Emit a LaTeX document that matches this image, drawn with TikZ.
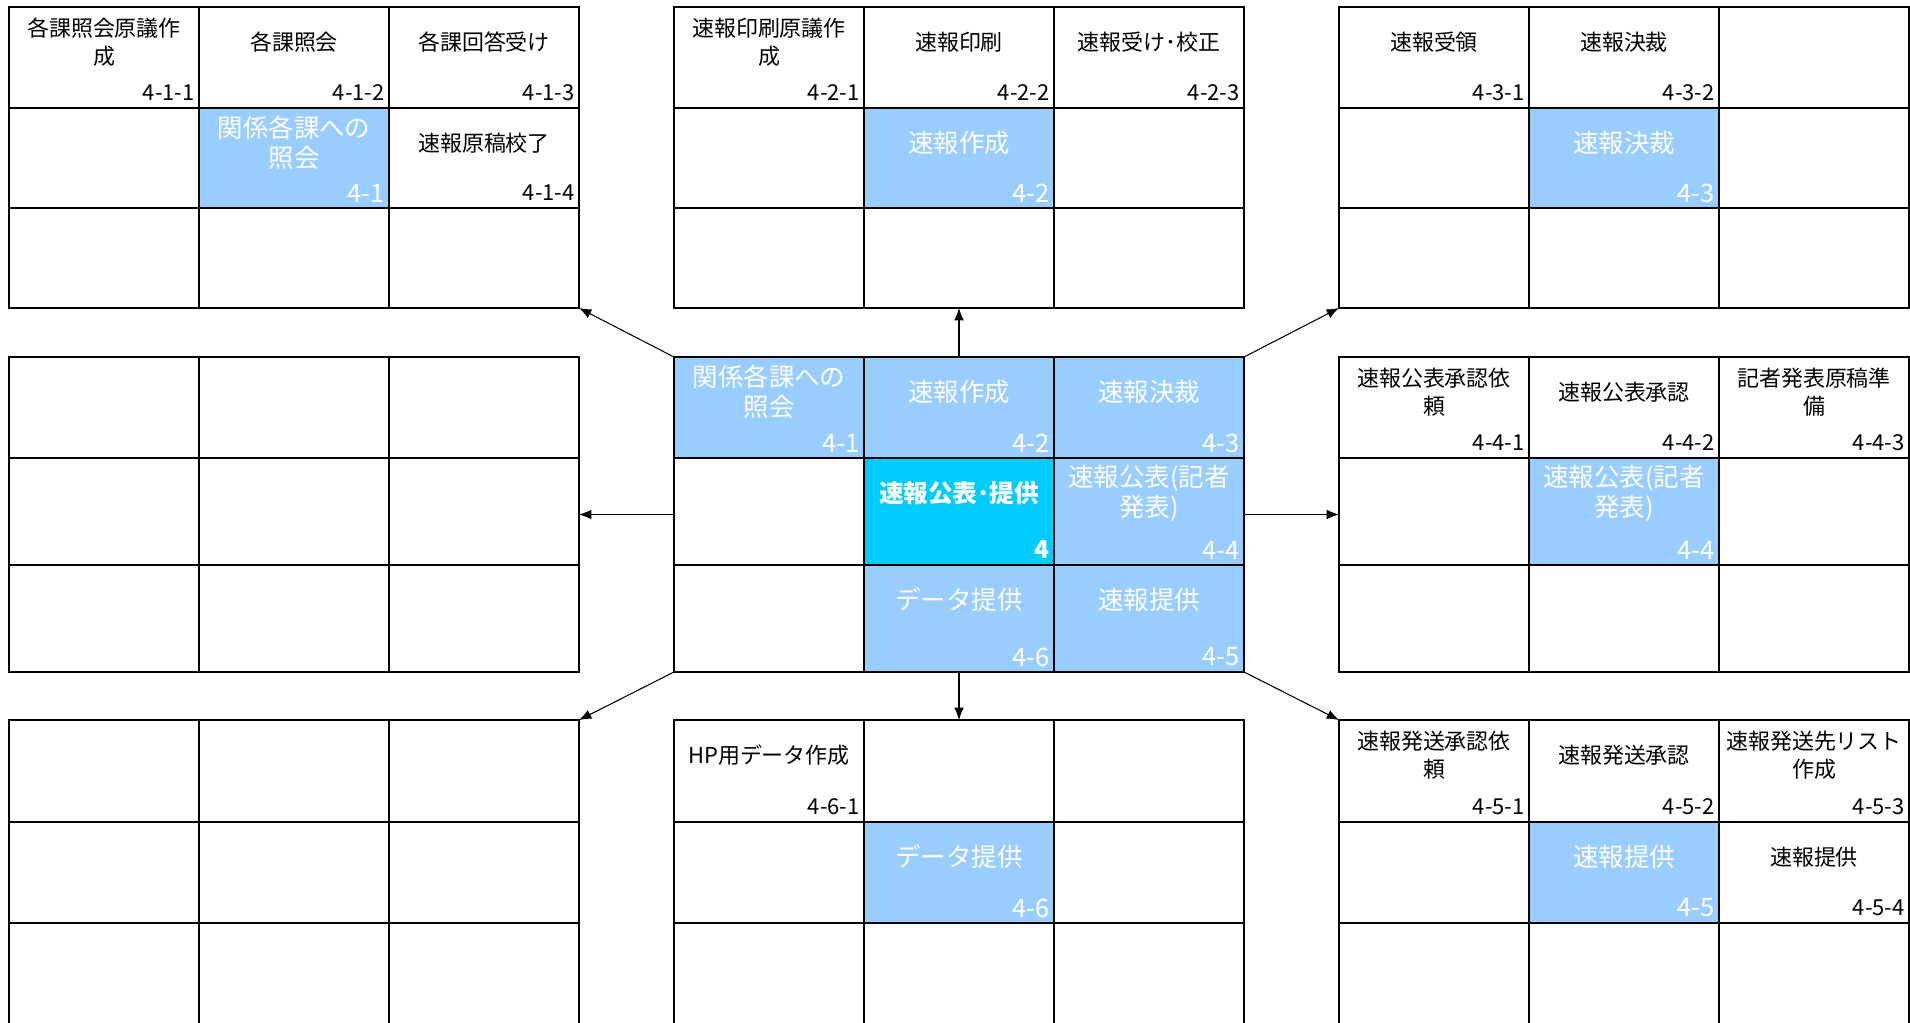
\documentclass[tikz,border=0pt]{standalone}
\usepackage{fontspec}
\setmainfont{Noto Sans CJK JP}
\usepackage{xcolor}
\usepackage{tikz}
\usetikzlibrary{positioning, fit, arrows.meta}
\definecolor{paleblue}{HTML}{99CCFF}
\definecolor{skyblue}{HTML}{00CCFF}
\tikzset{
    cellline/.style = {line width = 1.1pt, line cap = rect},
    task/.style = {
        align = center, inner sep = 0pt,
        font = \fontsize{12.5}{16}\selectfont
    },
    num/.style = {
        anchor = east, inner sep = 0pt,
        font = \fontsize{12.5}{16}\selectfont
    },
    lit/.style = {text = white, font = \fontsize{14.5}{17}\selectfont},
    main/.style = {text = white, font = \fontsize{14}{17}\selectfont\bfseries},
    area/.style = {inner sep = 0pt, outer sep = 0pt},
    line/.style = {-{Latex[length=7pt, width=5.5pt]}, line width = 0.6pt}
}
% name, left x, row top, row bottom, text, number
\newcommand{\taskcell}[7][]{%
    \node[task, #1] (#2) at (#3+95, #4+35) {#6};
    \node[num, #1] (#2n) at (#3+186, #5-15) {#7};
}

\begin{document}
\begin{tikzpicture}[x = 0.02cm, y = -0.02cm]

    \useasboundingbox (0,0) rectangle (1910,1022);

    % Highlighted cells
    \fill[paleblue] (199,108) rectangle (389,208);
    \fill[paleblue] (864,108) rectangle (1054,208);
    \fill[paleblue] (1529,108) rectangle (1719,208);
    \fill[paleblue] (674,357) rectangle (1244,458);
    \fill[paleblue] (1054,458) rectangle (1244,565);
    \fill[paleblue] (864,565) rectangle (1244,672);
    \fill[skyblue] (864,458) rectangle (1054,565);
    \fill[paleblue] (1529,458) rectangle (1719,565);
    \fill[paleblue] (864,822) rectangle (1054,923);
    \fill[paleblue] (1529,822) rectangle (1719,923);

    % Grids
    \foreach \x in {9, 674, 1339} {
        \foreach \c in {0, 190, 380, 570} {
            \draw[cellline] (\x+\c, 7) -- (\x+\c, 308);
            \draw[cellline] (\x+\c, 357) -- (\x+\c, 672);
            \draw[cellline] (\x+\c, 720) -- (\x+\c, 1024);
        }
        \foreach \y in {7, 108, 208, 308, 357, 458, 565, 672, 720, 822, 923, 1024}
            \draw[cellline] (\x, \y) -- (\x+570, \y);
    }

    % Blocks
    \node[area, fit = {(9,7) (579,308)}] (TL) {};
    \node[area, fit = {(674,7) (1244,308)}] (T) {};
    \node[area, fit = {(1339,7) (1909,308)}] (TR) {};
    \node[area, fit = {(9,357) (579,672)}] (L) {};
    \node[area, fit = {(674,357) (1244,672)}] (C) {};
    \node[area, fit = {(1339,357) (1909,672)}] (R) {};
    \node[area, fit = {(9,720) (579,1024)}] (BL) {};
    \node[area, fit = {(674,720) (1244,1024)}] (B) {};
    \node[area, fit = {(1339,720) (1909,1024)}] (BR) {};

    % 4-1
    \taskcell{t411}{9}{7}{108}{各課照会原議作\\成}{4-1-1}
    \taskcell{t412}{199}{7}{108}{各課照会}{4-1-2}
    \taskcell{t413}{389}{7}{108}{各課回答受け}{4-1-3}
    \taskcell[lit]{t41}{199}{108}{208}{関係各課への\\照会}{4-1}
    \taskcell{t414}{389}{108}{208}{速報原稿校了}{4-1-4}

    % 4-2
    \taskcell{t421}{674}{7}{108}{速報印刷原議作\\成}{4-2-1}
    \taskcell{t422}{864}{7}{108}{速報印刷}{4-2-2}
    \taskcell{t423}{1054}{7}{108}{速報受け･校正}{4-2-3}
    \taskcell[lit]{t42}{864}{108}{208}{速報作成}{4-2}

    % 4-3
    \taskcell{t431}{1339}{7}{108}{速報受領}{4-3-1}
    \taskcell{t432}{1529}{7}{108}{速報決裁}{4-3-2}
    \taskcell[lit]{t43}{1529}{108}{208}{速報決裁}{4-3}

    % 4
    \taskcell[lit]{c41}{674}{357}{458}{関係各課への\\照会}{4-1}
    \taskcell[lit]{c42}{864}{357}{458}{速報作成}{4-2}
    \taskcell[lit]{c43}{1054}{357}{458}{速報決裁}{4-3}
    \taskcell[main]{c4}{864}{458}{565}{速報公表･提供}{4}
    \taskcell[lit]{c44}{1054}{458}{565}{速報公表(記者\\発表)}{4-4}
    \taskcell[lit]{c46}{864}{565}{672}{データ提供}{4-6}
    \taskcell[lit]{c45}{1054}{565}{672}{速報提供}{4-5}

    % 4-4
    \taskcell{t441}{1339}{357}{458}{速報公表承認依\\頼}{4-4-1}
    \taskcell{t442}{1529}{357}{458}{速報公表承認}{4-4-2}
    \taskcell{t443}{1719}{357}{458}{記者発表原稿準\\備}{4-4-3}
    \taskcell[lit]{t44}{1529}{458}{565}{速報公表(記者\\発表)}{4-4}

    % 4-6
    \taskcell{t461}{674}{720}{822}{HP用データ作成}{4-6-1}
    \taskcell[lit]{t46}{864}{822}{923}{データ提供}{4-6}

    % 4-5
    \taskcell{t451}{1339}{720}{822}{速報発送承認依\\頼}{4-5-1}
    \taskcell{t452}{1529}{720}{822}{速報発送承認}{4-5-2}
    \taskcell{t453}{1719}{720}{822}{速報発送先リスト\\作成}{4-5-3}
    \taskcell[lit]{t45}{1529}{822}{923}{速報提供}{4-5}
    \taskcell{t454}{1719}{822}{923}{速報提供}{4-5-4}

    % Arrows
    \draw[line] (C.north west) -- (TL.south east);
    \draw[line] (C.north) -- (T.south);
    \draw[line] (C.north east) -- (TR.south west);
    \draw[line] (C.west) -- (L.east);
    \draw[line] (C.east) -- (R.west);
    \draw[line] (C.south west) -- (BL.north east);
    \draw[line] (C.south) -- (B.north);
    \draw[line] (C.south east) -- (BR.north west);

\end{tikzpicture}
\end{document}
